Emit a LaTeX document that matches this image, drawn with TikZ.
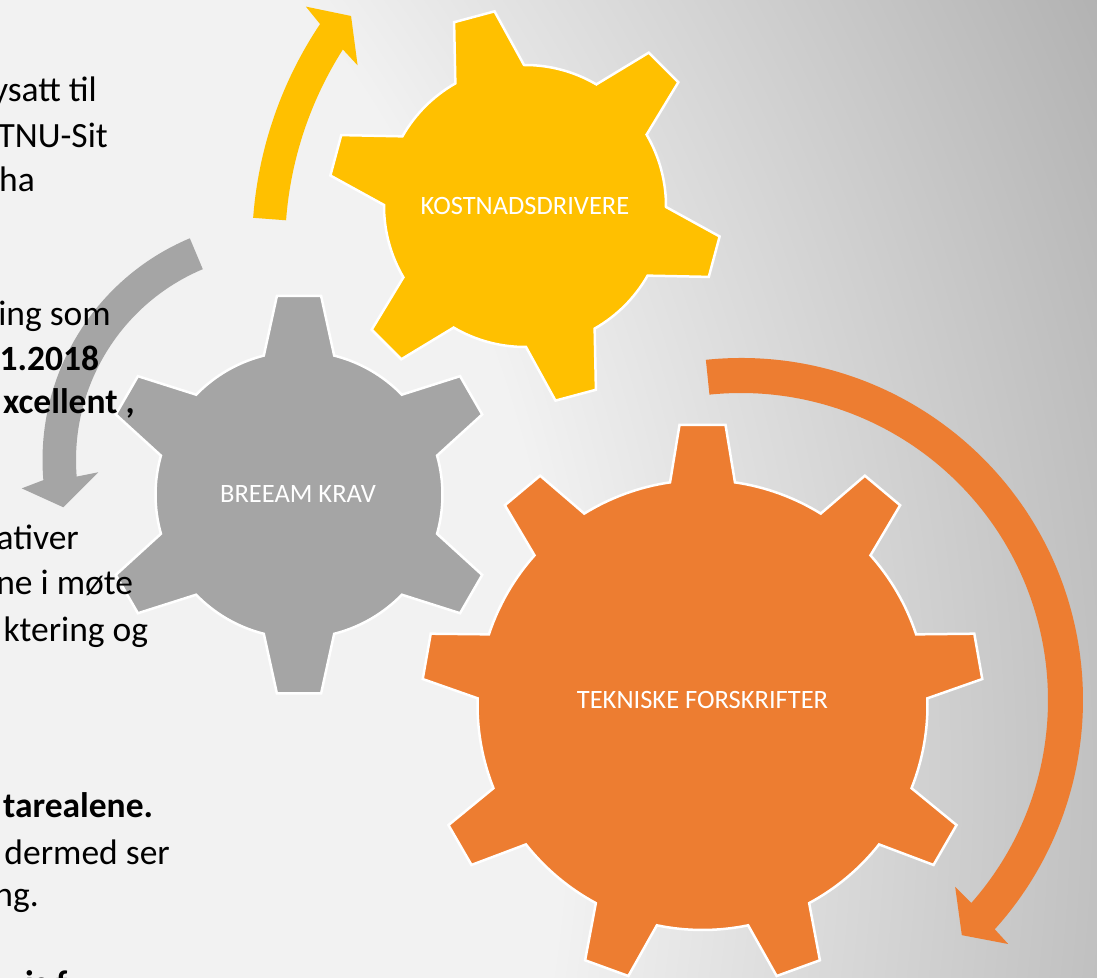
\documentclass[tikz,border=0pt]{standalone}
\usepackage{fontspec}
\setmainfont{Carlito}
\definecolor{gyel}{HTML}{FFC000}
\definecolor{ggry}{HTML}{A5A5A5}
\definecolor{gorg}{HTML}{ED7D31}
\tikzset{
  gearshape/.style={draw=white, line width=2.5pt, line join=miter},
  gearlabel/.style={text=white, font=\fontsize{26.5}{30}\selectfont, inner sep=0pt, anchor=center},
  sidetext/.style={anchor=base east, inner sep=0pt, font=\fontsize{35.5}{42}\selectfont, text=black},
  sidebold/.style={sidetext, font=\fontsize{35.5}{42}\selectfont\bfseries},
}
% #1 fill colour, #2 teeth, #3 first tooth angle, #4 outer radius, #5 body radius, #6 tip half-angle, #7 base half-angle
\newcommand{\mygear}[7]{%
  \filldraw[gearshape, fill=#1] ({#3-360/#2+#7}:#5)
    foreach \gi in {1,...,#2}{
      arc[start angle={#3+(\gi-2)*360/#2+#7}, end angle={#3+(\gi-1)*360/#2-#7}, radius=#5]
      -- ({#3+(\gi-1)*360/#2-#6}:#4)
      -- ({#3+(\gi-1)*360/#2+#6}:#4)
      -- ({#3+(\gi-1)*360/#2+#7}:#5)
    } -- cycle;}
\begin{document}
\begin{tikzpicture}[x=1pt,y=1pt]
\useasboundingbox (0,0) rectangle (1097,977);
% background gradient
\begin{scope}
  \clip (0,0) rectangle (1097,977);
  \foreach \k in {64,63,...,0}{
    \pgfmathtruncatemacro{\v}{242-\k}
    \definecolor{bgk}{RGB}{\v,\v,\v}
    \fill[bgk] (-700,197) circle[radius={1270+\k*10.9}];
  }
\end{scope}
% circular arrows
\begin{scope}[shift={(654.5,729)}]
  \fill[gyel] (175.7:402.5) arc[start angle=175.7, end angle=146.2, radius=402.5]
    -- (145.3:424) -- (142.6:382) -- (148.4:348.6) -- (147.5:369.5)
    arc[start angle=147.5, end angle=175.7, radius=369.5] -- cycle;
\end{scope}
\begin{scope}[shift={(283,517)}]
  \fill[ggry] (112.8:240.5) arc[start angle=112.8, end angle=184.8, radius=240.5]
    -- (186.2:262.8) -- (192.15:224.7) -- (183.8:185.1) -- (184.6:207)
    arc[start angle=184.6, end angle=112.8, radius=207] -- cycle;
\end{scope}
\begin{scope}[shift={(741,277)}]
  \fill[gorg] (95.9:342) arc[start angle=95.9, end angle=-42.1, radius=342]
    -- (-42.4:361.9) -- (-46.8:322.6) -- (-41.1:284.2) -- (-41.4:307)
    arc[start angle=-41.4, end angle=95.9, radius=307] -- cycle;
\end{scope}
% gears
\begin{scope}[shift={(525,771)}]
  \mygear{gyel}{6}{45}{197}{141}{6.1}{14.6}
\end{scope}
\begin{scope}[shift={(299,482.3)}]
  \mygear{ggry}{6}{90}{200}{143.5}{6.35}{14.2}
\end{scope}
\begin{scope}[shift={(702.5,272)}]
  \mygear{gorg}{9}{90}{281}{225}{4.7}{8.3}
\end{scope}
% gear labels
\node[gearlabel] (klabel) at (525,771) {KOSTNADSDRIVERE};
\node[gearlabel] (blabel) at (298,482.5) {BREEAM KRAV};
\node[gearlabel] (tlabel) at (702.5,277.5) {TEKNISKE FORSKRIFTER};
% side text
\node[sidetext] (t1) at (97,875) {ysatt til};
\node[sidetext] (t2) at (108,829) {TNU-Sit};
\node[sidetext] (t3) at (35,785) {ha};
\node[sidetext] (t4) at (111,651) {ing som};
\node[sidebold] (t5) at (99.3,606.5) {1.2018};
\node[sidebold] (t6) at (135,563) {xcellent ,};
\node[sidetext] (t7) at (79,427) {ativer};
\node[sidetext] (t8) at (133.3,382) {ne i møte};
\node[sidetext] (t9) at (148.3,335) {ktering og};
\node[sidebold] (t10) at (153.3,159) {tarealene.};
\node[sidetext] (t11) at (170,112) {dermed ser};
\node[sidetext] (t12) at (39,71) {ng.};
\node[sidebold, anchor=base west] (t13) at (25,-18) {is f};
\end{tikzpicture}
\end{document}
